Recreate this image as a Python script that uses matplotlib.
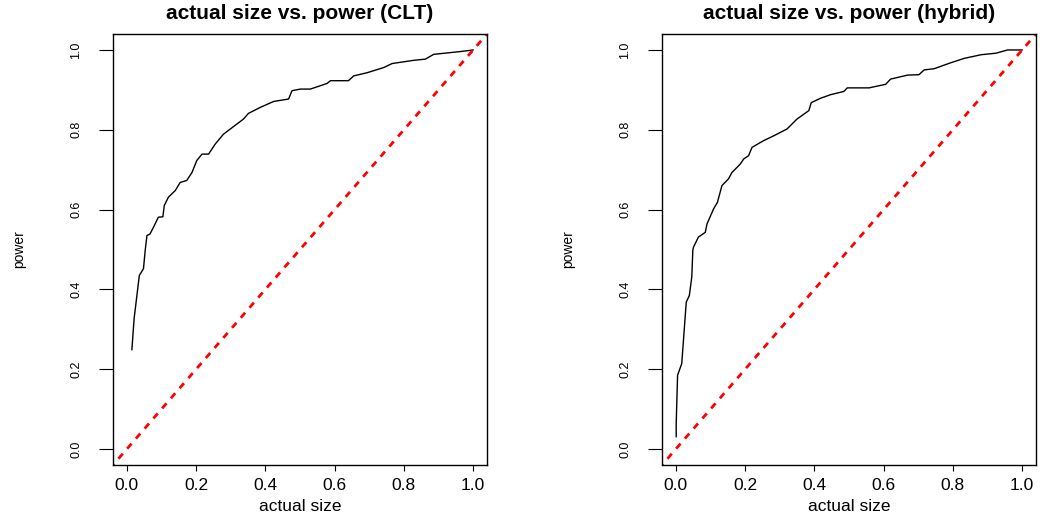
import matplotlib
matplotlib.use("Agg")
import matplotlib.pyplot as plt

plt.rcParams['font.family'] = ['Liberation Sans', 'DejaVu Sans']

# CLT panel
clt_size = [0.0145, 0.021, 0.036, 0.048, 0.053, 0.058, 0.067, 0.077, 0.091, 0.104,
            0.108, 0.120, 0.140, 0.154, 0.173, 0.188, 0.202, 0.217, 0.236, 0.255,
            0.279, 0.308, 0.337, 0.351, 0.385, 0.424, 0.467, 0.477, 0.501, 0.530,
            0.578, 0.588, 0.640, 0.655, 0.694, 0.742, 0.766, 0.828, 0.862, 0.886,
            0.963, 1.000]
clt_power = [0.249, 0.327, 0.435, 0.452, 0.498, 0.535, 0.539, 0.556, 0.581, 0.582,
             0.610, 0.631, 0.648, 0.668, 0.673, 0.693, 0.723, 0.739, 0.739, 0.764,
             0.789, 0.808, 0.827, 0.841, 0.856, 0.871, 0.877, 0.898, 0.902, 0.902,
             0.916, 0.923, 0.923, 0.935, 0.943, 0.956, 0.966, 0.974, 0.977, 0.989,
             0.996, 1.000]

# hybrid panel
hyb_size = [0.001, 0.001, 0.005, 0.017, 0.022, 0.030, 0.039, 0.046, 0.049, 0.051,
            0.065, 0.085, 0.090, 0.109, 0.120, 0.133, 0.152, 0.162, 0.186, 0.196,
            0.210, 0.220, 0.254, 0.283, 0.321, 0.350, 0.384, 0.391, 0.418, 0.447,
            0.485, 0.495, 0.558, 0.606, 0.620, 0.669, 0.702, 0.717, 0.746, 0.794,
            0.833, 0.881, 0.925, 0.958, 1.000]
hyb_power = [0.031, 0.064, 0.185, 0.214, 0.273, 0.368, 0.385, 0.431, 0.498, 0.506,
             0.531, 0.543, 0.564, 0.602, 0.618, 0.660, 0.677, 0.693, 0.714, 0.727,
             0.735, 0.756, 0.773, 0.785, 0.802, 0.827, 0.848, 0.868, 0.879, 0.888,
             0.896, 0.905, 0.905, 0.914, 0.927, 0.937, 0.938, 0.950, 0.953, 0.968,
             0.979, 0.988, 0.992, 1.000, 1.000]

ticks = [0.0, 0.2, 0.4, 0.6, 0.8, 1.0]
tick_labels = ["0.0", "0.2", "0.4", "0.6", "0.8", "1.0"]

panels = [
    ("actual size vs. power (CLT)", clt_size, clt_power, 113),
    ("actual size vs. power (hybrid)", hyb_size, hyb_power, 662),
]

W, H = 1041, 516
fig = plt.figure(figsize=(W / 100, H / 100), dpi=100)

for title, xs, ys, left_px in panels:
    ax = fig.add_axes([left_px / W, 51 / H, 374 / W, 431 / H])
    ax.plot(xs, ys, color='black', lw=1.0)
    ax.plot([-0.1, 1.1], [-0.1, 1.1], color='red', lw=2.0,
            linestyle=(0, (2.4, 2.4)))
    ax.set_xlim(-0.04, 1.04)
    ax.set_ylim(-0.04, 1.04)
    ax.set_xticks(ticks)
    ax.set_xticklabels(tick_labels, fontsize=12.5)
    ax.set_yticks(ticks)
    ax.set_yticklabels(tick_labels, fontsize=9, rotation=90, va='center')
    ax.tick_params(axis='x', length=4, width=0.8, pad=5)
    ax.tick_params(axis='y', length=10, width=0.8, pad=12)
    for sp in ax.spines.values():
        sp.set_linewidth(1.0)
    ax.set_title(title, fontsize=15, fontweight='bold', pad=11)
    ax.set_xlabel("actual size", fontsize=12.5, labelpad=5)
    ax.set_ylabel("power", fontsize=10, labelpad=32)

fig.savefig("out.png", dpi=100)
